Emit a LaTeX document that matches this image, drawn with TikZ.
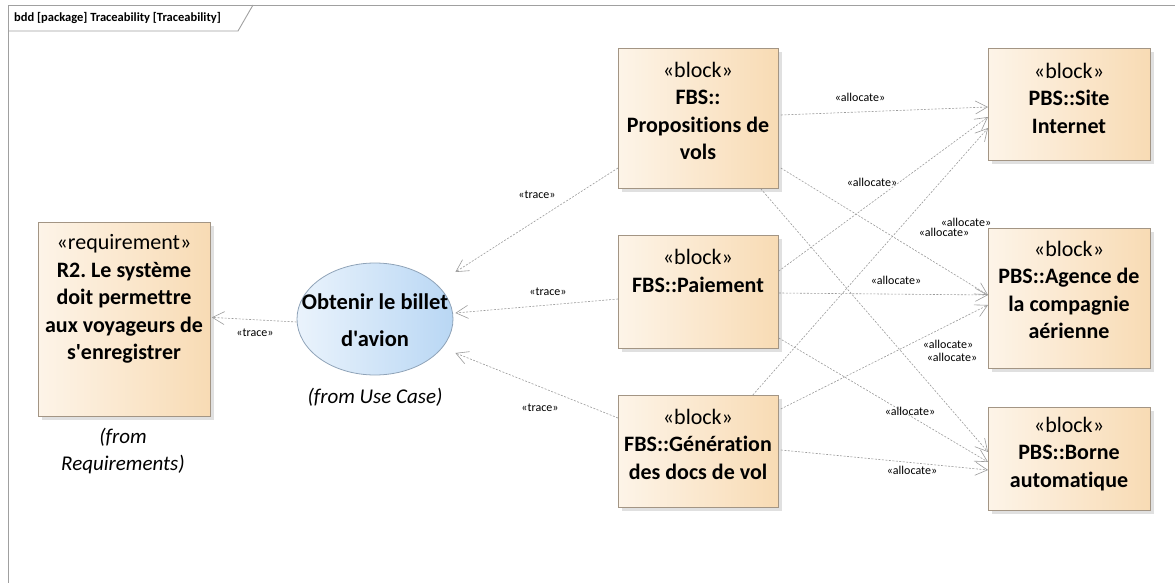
\documentclass[tikz,border=0pt]{standalone}
\usepackage{fontspec}
\setmainfont{Carlito}[Ligatures={NoCommon,TeXOff}]
\usetikzlibrary{shapes.geometric,arrows.meta,calc,shadows}
\definecolor{blkL}{HTML}{FDF4E8}
\definecolor{blkR}{HTML}{F8DBB4}
\definecolor{blkD}{HTML}{A39584}
\definecolor{ucL}{HTML}{EAF3FC}
\definecolor{ucR}{HTML}{B9D7F4}
\definecolor{ucD}{HTML}{8FA3B8}
\definecolor{lnC}{HTML}{9A9A9A}
\definecolor{frm}{HTML}{A0A0A0}
\frenchspacing
\begin{document}
\begin{tikzpicture}[x=1pt,y=-1pt,
  blockbox/.style={draw=blkD, line width=0.8pt, left color=blkL, right color=blkR,
    anchor=north west, inner sep=0pt,
    drop shadow={shadow xshift=4pt,shadow yshift=-4pt,fill=black!12,opacity=1}},
  ucbox/.style={ellipse, draw=ucD, line width=0.8pt, left color=ucL, right color=ucR,
    minimum width=156pt, minimum height=112pt, inner sep=0pt},
  boxtext/.style={align=center, inner sep=0pt, font=\fontsize{22}{27.5}\selectfont},
  uctext/.style={align=center, inner sep=0pt, font=\fontsize{22.5}{37}\selectfont\bfseries},
  fromtext/.style={align=center, inner sep=0pt, font=\fontsize{21}{26.5}\selectfont\itshape},
  conn/.style={draw=lnC, line width=0.6pt, dash pattern=on 2pt off 1.5pt,
    -{Straight Barb[length=12pt,width=13pt,line width=0.6pt]}},
  lbl/.style={inner sep=0pt, font=\fontsize{12}{14}\selectfont},
  frameline/.style={draw=frm, line width=0.9pt}
]
\useasboundingbox (0,0) rectangle (1175,583);
% frame
\draw[frameline] (8,583) -- (8,5) -- (1175,5);
\draw[frameline] (8,31) -- (238,31) -- (253,5);
\node[anchor=west, inner sep=0pt, font=\fontsize{12.5}{14}\selectfont\bfseries] (title) at (14,18) {bdd [package] Traceability [Traceability]};

% boxes
\node[blockbox, minimum width=172pt, minimum height=194pt] (req) at (38,222) {};
\node[boxtext] (reqT) at (124,299) {«requirement»\\\textbf{R2. Le système}\\\textbf{doit permettre}\\\textbf{aux voyageurs de}\\\textbf{s'enregistrer}};
\node[fromtext] (reqF) at (123,451) {(from\\Requirements)};

\node[ucbox] (uc) at (375,319) {};
\node[uctext] (ucT) at (375,320) {Obtenir le billet\\d'avion};
\node[fromtext] (ucF) at (375,397) {(from Use Case)};

\node[blockbox, minimum width=160pt, minimum height=140pt] (prop) at (618,48) {};
\node[boxtext] (propT) at (698,111) {«block»\\\textbf{FBS::}\\\textbf{Propositions de}\\\textbf{vols}};

\node[blockbox, minimum width=160pt, minimum height=113pt] (pay) at (618,235) {};
\node[boxtext] (payT) at (698,271) {«block»\\\textbf{FBS::Paiement}};

\node[blockbox, minimum width=160pt, minimum height=112pt] (gen) at (618,395) {};
\node[boxtext] (genT) at (698,444) {«block»\\\textbf{FBS::Génération}\\\textbf{des docs de vol}};

\node[blockbox, minimum width=162pt, minimum height=112pt] (site) at (988,48) {};
\node[boxtext] (siteT) at (1069,98) {«block»\\\textbf{PBS::Site}\\\textbf{Internet}};

\node[blockbox, minimum width=162pt, minimum height=140pt] (agen) at (988,228) {};
\node[boxtext] (agenT) at (1069,290) {«block»\\\textbf{PBS::Agence de}\\\textbf{la compagnie}\\\textbf{aérienne}};

\node[blockbox, minimum width=162pt, minimum height=103pt] (borne) at (988,407) {};
\node[boxtext] (borneT) at (1069,454) {«block»\\\textbf{PBS::Borne}\\\textbf{automatique}};

% trace connectors
\draw[conn] ($(uc.west)+(0,3)$) -- ($(req.east)+(1,-2)$);
\draw[conn] ($(prop.north west)+(0,120)$) -- ($(uc.east)+(2,-47)$);
\draw[conn] ($(pay.north west)+(0,64)$) -- ($(uc.east)+(2,-6)$);
\draw[conn] ($(gen.north west)+(0,23)$) -- ($(uc.east)+(2,34)$);
\node[lbl] (t1) at (255,333) {«trace»};
\node[lbl] (t2) at (537,195) {«trace»};
\node[lbl] (t3) at (548,292) {«trace»};
\node[lbl] (t4) at (540,408) {«trace»};

% allocate connectors
\draw[conn] ($(prop.north east)+(2,67)$) -- ($(site.north west)+(0,59)$);
\draw[conn] ($(prop.north east)+(2,120)$) -- ($(agen.north west)+(0,67)$);
\draw[conn] ($(prop.south east)+(-18,0)$) -- ($(borne.north west)+(0,45)$);
\draw[conn] ($(pay.north east)+(0,36)$) -- ($(site.north west)+(0,69)$);
\draw[conn] ($(pay.north east)+(0,58)$) -- ($(agen.north west)+(0,67)$);
\draw[conn] ($(pay.north east)+(0,103)$) -- ($(borne.north west)+(0,55)$);
\draw[conn] ($(gen.north east)+(-26,0)$) -- ($(site.north west)+(0,80)$);
\draw[conn] ($(gen.north east)+(2,14)$) -- ($(agen.north west)+(0,77)$);
\draw[conn] ($(gen.north east)+(2,55)$) -- ($(borne.north west)+(0,63)$);
\node[lbl] (a1) at (860,97) {«allocate»};
\node[lbl] (a2) at (872,182) {«allocate»};
\node[lbl] (a3) at (966,222) {«allocate»};
\node[lbl] (a4) at (944,232) {«allocate»};
\node[lbl] (a5) at (896,280) {«allocate»};
\node[lbl] (a6) at (948,344) {«allocate»};
\node[lbl] (a7) at (952,357) {«allocate»};
\node[lbl] (a8) at (910,411) {«allocate»};
\node[lbl] (a9) at (912,470) {«allocate»};
\end{tikzpicture}
\end{document}
